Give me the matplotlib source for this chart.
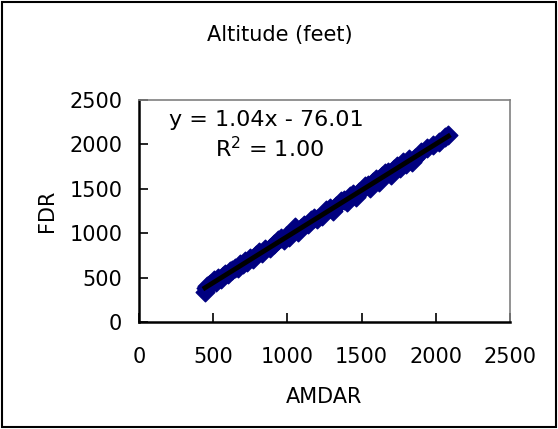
import matplotlib
matplotlib.use("Agg")
import matplotlib.pyplot as plt
from matplotlib.patches import Rectangle

# AMDAR vs FDR altitude (feet)
amdar = [445, 450, 460, 470, 480, 495, 505, 520, 535, 550, 565, 580, 600, 615,
         630, 650, 665, 680, 700, 715, 730, 750, 770, 790, 810, 830, 850, 880,
         910, 940, 960, 975, 990, 1010, 1030, 1050, 1070, 1090, 1110, 1140,
         1160, 1180, 1200, 1230, 1260, 1290, 1310, 1330, 1360, 1380, 1400, 1420,
         1440, 1460, 1480, 1500, 1520, 1540, 1560, 1580, 1600, 1620, 1640, 1660,
         1680, 1700, 1720, 1740, 1760, 1780, 1800, 1820, 1840, 1860, 1900, 1940,
         1980, 2020, 2060, 2085]
fdr = [340, 380, 410, 420, 430, 445, 470, 455, 495, 490, 520, 545, 540, 580,
       590, 610, 605, 650, 660, 690, 675, 720, 715, 760, 790, 780, 820, 830,
       880, 920, 950, 925, 970, 960, 1010, 1070, 1010, 1060, 1090, 1100,
       1150, 1175, 1160, 1200, 1260, 1290, 1250, 1310, 1360, 1370, 1350, 1420,
       1440, 1410, 1470, 1490, 1530, 1540, 1510, 1580, 1610, 1580, 1640, 1680,
       1690, 1660, 1720, 1760, 1740, 1800, 1780, 1840, 1800, 1850, 1910, 1960,
       1990, 2030, 2080, 2110]

slope, intercept, r2 = 1.04, -76.01, 1.00
ticks = [0, 500, 1000, 1500, 2000, 2500]

plt.rcParams["font.family"] = "DejaVu Sans"
fs = 15
fig = plt.figure(figsize=(5.58, 4.29), dpi=100)
ax = fig.add_axes([0.249, 0.249, 0.665, 0.518])

ax.scatter(amdar, fdr, marker="D", s=90, c="#000080", edgecolors="#000080", zorder=2)
x0, x1 = min(amdar), max(amdar)
ax.plot([x0, x1], [slope * x0 + intercept, slope * x1 + intercept], color="black", lw=3.5, zorder=3)

ax.text(860, 2275, f"y = {slope:.2f}x - {abs(intercept):.2f}", ha="center", va="center", fontsize=16)
ax.text(880, 1955, f"R$^2$ = {r2:.2f}", ha="center", va="center", fontsize=16)

ax.set_xlim(0, 2500); ax.set_ylim(0, 2500)
ax.set_xticks(ticks); ax.set_yticks(ticks)
ax.tick_params(direction="in", length=6.5, width=1.2, labelsize=fs, colors="black")
ax.tick_params(axis="x", pad=18)
ax.tick_params(axis="y", pad=12)
for s in ("left", "bottom"):
    ax.spines[s].set_color("black"); ax.spines[s].set_linewidth(1.8)
for s in ("top", "right"):
    ax.spines[s].set_color("#808080"); ax.spines[s].set_linewidth(1.2)

ax.set_xlabel("AMDAR", fontsize=fs, labelpad=14)
ax.set_ylabel("FDR", fontsize=fs, labelpad=9)
fig.text(0.502, 0.918, "Altitude (feet)", ha="center", va="center", fontsize=fs)

fig.patches.append(Rectangle((0.004, 0.005), 0.992, 0.99, transform=fig.transFigure,
                             fill=False, edgecolor="black", lw=1.5))
fig.savefig("out.png", dpi=100)
